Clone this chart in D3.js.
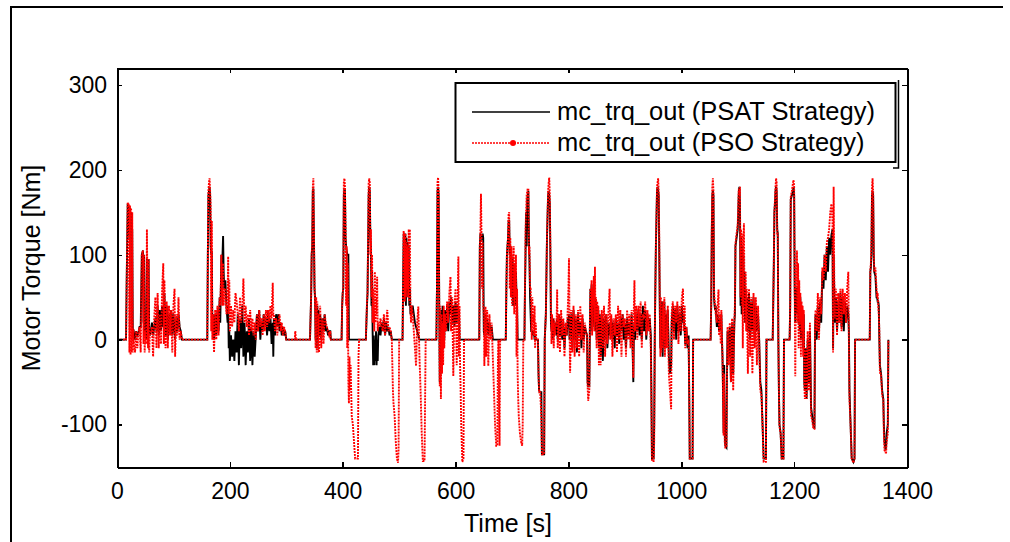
<html>
<head>
<meta charset="utf-8">
<script src="https://d3js.org/d3.v7.min.js"></script>
<style>
body { margin: 0; padding: 0; background: #fff; }
svg { display: block; background: #fff; }
text { font-family: Arial, "Liberation Sans", sans-serif; fill: #000; }
.axis path, .axis line { stroke: #000; shape-rendering: crispEdges; }
.axis path { stroke-width: 2; }
.axis line { stroke-width: 1.5; }
.axis text { font-size: 23px; }
</style>
</head>
<body>
<script>
// time [s] shared by both traces
var timeS = [
  0,16,17,18,19,20,21,22,23,24,25,26,27,28,29,30,
  32,34,36,38,40,42,44,46,47,48,49,50,52,53,55,56,
  57,58,60,62,64,66,68,70,72,74,76,78,80,82,83,84,
  86,88,90,92,94,96,98,100,102,103,105,107,109,111,113,115,160,
  161,162,163,164,165,166,167,168,169,170,172,174,176,178,180,182,
  183,184,185,186,187,188,189,190,192,194,196,197,198,199,200,202,
  204,206,208,210,212,214,216,218,220,222,224,226,228,230,232,234,
  236,238,240,242,244,246,248,250,252,254,256,258,260,262,264,266,
  268,270,272,274,276,277,278,280,282,284,286,288,290,292,294,296,
  298,300,315,316,317,342,
  344,345,346,347,348,349,350,351,352,353,354,355,356,357,358,360,
  362,364,366,368,370,372,374,376,378,379,398,
  399,400,401,402,403,404,405,406,407,408,409,410,411,412,413,414,
  416,418,420,422,427,428,429,441,
  443,444,446,447,448,449,450,451,452,453,454,455,456,457,458,459,
  460,461,462,463,465,467,469,471,473,475,477,479,481,483,485,487,
  488,489,490,492,494,496,498,499,500,506,
  507,508,509,510,511,512,513,514,515,516,517,518,519,520,521,522,
  524,526,528,530,532,534,536,538,540,542,545,547,566,
  567,568,569,570,571,572,573,574,575,576,577,578,579,580,581,583,
  585,587,589,591,592,594,596,598,600,602,604,605,606,607,
  608,609,610,612,614,615,642,
  643,644,645,646,647,648,649,650,651,653,654,656,658,660,662,664,
  666,668,670,672,674,675,676,677,678,679,689,
  690,691,693,694,695,696,697,698,699,700,701,702,703,704,705,706,
  707,708,709,710,711,712,714,716,718,719,720,722,
  723,724,725,726,727,728,729,730,731,732,733,734,735,736,737,738,
  739,740,741,742,743,746,747,748,750,752,753,757,758,
  760,762,764,765,766,767,768,769,770,771,772,773,774,775,776,777,
  779,780,781,783,785,787,789,791,793,795,797,799,800,801,802,803,
  805,807,809,811,813,815,817,819,821,823,825,827,829,831,833,
  834,835,837,838,839,840,841,842,843,844,845,846,847,848,849,850,
  851,852,853,854,855,857,859,861,863,865,867,869,871,873,874,
  876,878,880,882,884,886,888,890,892,894,896,898,900,902,904,906,908,910,
  912,914,915,916,917,918,920,922,924,926,928,930,932,934,936,938,
  940,942,944,946,947,948,951,952,953,954,955,957,958,959,960,961,962,
  963,964,965,966,967,968,969,970,971,972,974,976,978,980,982,983,
  985,987,989,991,993,995,997,999,1001,1003,1004,1006,1007,1009,1011,1013,
  1014,1015,1020,1021,1052,1053,1054,1055,1056,1057,1058,1059,1060,1061,
  1063,1064,1066,1067,1068,1070,1071,1072,1073,1074,1075,1076,1077,1078,1080,1081,
  1082,1084,1086,1088,1090,1092,1094,1095,1096,1098,1100,1101,1102,1103,1104,
  1105,1106,1107,1108,1109,1110,1111,1112,1113,1114,1115,1116,
  1118,1120,1122,1124,1126,1128,1130,1132,1134,1136,1138,
  1140,1142,1144,1146,1150,1151,1162,1164,1165,1166,1167,1168,1169,1170,1171,1172,
  1173,1174,1176,1178,1181,1182,1192,1193,1194,1196,1198,1199,1200,1201,
  1202,1203,1204,1205,1206,1207,1208,1209,1210,1211,1212,1213,1214,1215,1216,1217,
  1218,1219,1220,1222,1224,1226,1228,1230,1232,1234,1236,1237,
  1238,1240,1242,1244,1246,1248,1250,1252,1254,1256,1258,1260,1262,1264,1266,1268,1269,1270,1271,
  1272,1274,1276,1278,1280,1282,1284,1286,1288,1290,1292,1294,1296,1297,
  1298,1300,1302,1305,1307,1308,1334,1335,1336,1337,1338,1339,1340,1341,
  1342,1344,1346,1347,1348,1349,1350,1351,1352,1354,1356,1358,1359,1360,1362,1363,1364,1366,1367
];

// mc_trq_out, PSAT strategy [Nm]
var psatTorque = [
  0,0,60,110,160,150,155,120,155,130,150,20,130,5,12,8,
  0,10,5,8,15,15,100,105,20,100,5,10,0,95,30,95,
  10,5,10,20,5,15,25,10,40,5,35,10,40,15,20,55,
  5,40,0,30,10,35,5,30,10,0,25,10,30,15,10,0,0,
  100,170,175,180,170,110,100,105,10,30,0,30,5,35,10,50,
  20,60,100,60,100,122,80,60,70,40,20,40,-10,10,-25,5,
  -20,0,-25,10,-15,30,-30,25,-10,40,-20,20,-30,10,-15,25,
  -25,15,-30,10,-20,5,30,10,35,0,20,10,30,15,25,5,
  35,10,25,-5,20,-20,25,5,30,15,30,10,20,5,15,5,
  10,0,0,0,0,0,
  50,100,110,175,178,120,60,50,0,30,-10,40,0,35,5,30,
  0,25,10,30,10,15,5,10,10,0,0,
  40,55,60,170,178,175,120,110,105,100,100,100,0,0,0,0,
  0,0,0,0,0,0,0,0,
  40,55,170,180,175,120,110,40,80,10,-30,5,-30,0,-25,10,
  -30,0,-25,5,15,5,20,10,25,5,20,10,15,5,10,0,
  0,0,0,0,0,0,0,0,0,0,
  60,125,120,50,125,40,120,55,115,50,110,40,60,30,35,30,
  40,30,20,15,10,5,0,0,0,0,0,0,0,
  60,175,180,170,50,-50,30,-40,35,-30,40,-10,30,0,35,10,
  40,10,45,30,50,20,40,15,45,20,40,30,35,0,
  0,0,0,0,0,0,0,
  110,125,120,122,118,125,120,10,5,30,10,25,5,20,10,15,
  0,0,0,0,0,0,0,0,0,0,0,
  60,100,120,140,140,100,110,60,100,50,95,40,90,60,85,40,
  80,50,40,0,0,0,0,0,0,0,0,0,
  60,100,150,110,165,170,175,120,90,50,30,10,10,5,10,5,
  10,0,5,0,0,0,-40,-60,-62,-62,-135,-135,0,
  30,120,170,175,170,160,100,20,10,20,0,25,5,20,10,20,
  5,25,0,30,5,25,0,20,-10,15,5,25,20,30,0,10,
  30,-10,35,0,25,-15,30,5,20,-10,25,0,15,10,5,
  -50,-55,-55,10,60,20,65,10,55,20,60,15,50,10,45,0,
  40,5,35,-10,30,-20,30,-25,25,0,30,-10,20,5,10,
  25,0,20,-10,25,5,20,-5,25,10,30,0,20,-10,25,5,20,0,
  30,-20,-50,10,20,0,30,10,35,5,30,0,40,10,35,0,
  30,15,25,5,-60,-140,-140,-100,0,60,110,175,180,175,170,100,30,
  -10,40,0,45,-20,35,10,45,-10,30,10,35,-20,-40,-30,20,
  40,10,35,0,40,10,30,5,40,20,30,10,-5,15,-10,5,
  -60,-140,-140,0,0,40,120,170,175,170,50,40,35,40,
  15,30,20,10,25,10,30,0,-20,-60,-110,-30,-110,-125,-127,-40,
  10,-20,15,-50,18,-40,20,30,110,120,130,150,175,180,160,
  40,120,30,110,40,100,40,80,20,60,30,50,
  10,55,0,45,10,50,0,40,10,30,0,
  -50,-60,-100,-140,-140,0,0,90,150,160,175,180,175,130,125,0,
  -60,-100,-110,-140,-140,0,0,40,165,170,175,180,170,60,
  20,50,60,60,30,60,20,55,10,50,0,40,5,35,-10,30,
  -50,-60,-10,-70,0,-50,10,-80,-90,-100,-105,10,
  30,0,40,10,45,20,80,60,100,70,110,80,120,100,123,130,-10,100,60,
  20,50,10,45,20,55,15,50,10,45,20,40,30,10,
  -60,-100,-140,-144,-140,0,0,80,85,100,170,175,170,100,
  80,75,50,50,45,45,40,0,-30,-40,-60,-70,-100,-120,-130,-125,-110,-100,0
];

// mc_trq_out, PSO strategy [Nm]
var psoTorque = [
  0,0,60,115,162,158,160,-15,158,-18,155,-15,150,-15,12,-5,
  -15,10,-10,8,15,-15,100,105,-5,100,-15,10,-5,130,-10,95,
  -15,5,10,15,-20,25,50,-10,55,-10,30,-5,60,90,-5,70,
  -10,45,-10,40,5,35,-15,40,60,-20,30,5,50,0,10,0,0,
  100,175,185,190,175,160,10,140,0,30,-15,35,0,40,5,50,
  40,65,100,60,40,90,40,60,60,30,50,98,30,70,10,40,
  15,35,20,55,45,30,10,50,20,35,72,20,40,15,30,5,
  35,10,25,5,20,0,30,10,35,15,25,5,30,10,35,15,
  35,20,40,25,67,30,30,10,25,5,20,30,10,20,5,15,
  10,0,0,10,0,0,
  50,100,115,180,190,130,70,40,-10,50,-15,45,-15,30,-15,40,
  -10,25,-5,30,20,15,10,5,10,0,0,
  40,55,60,185,190,180,130,40,110,-10,90,-50,-75,-20,-60,-30,
  -90,-100,-120,-140,-140,-20,0,0,
  45,55,185,190,185,100,130,50,100,20,60,40,10,80,20,50,
  30,74,10,20,15,25,15,10,30,5,20,35,10,15,10,0,
  -30,-60,-75,-90,-120,-140,-145,-130,0,0,
  60,128,120,45,125,50,115,60,110,50,130,45,130,40,20,40,
  30,10,-10,-31,20,39,-20,-60,-110,-143,-143,0,0,
  60,185,191,175,40,-55,40,-70,30,-40,20,-30,40,-10,30,10,
  45,20,55,74,10,50,-43,40,60,-30,50,98,-20,40,
  -30,-60,-100,-144,-140,0,0,
  110,127,172,120,60,115,40,30,-31,39,-20,35,-31,30,0,20,
  -20,-60,-100,-125,-125,-30,0,-80,-125,0,0,
  60,100,120,148,150,60,120,50,110,40,100,50,110,30,90,50,
  100,-20,60,-40,-70,-90,-110,-120,-125,-100,0,0,
  60,130,150,170,175,178,178,100,110,60,60,40,0,50,20,30,
  5,40,-10,20,0,0,-40,-62,-62,-90,-135,-135,0,
  30,120,175,185,191,170,110,40,-5,30,10,20,-10,25,5,20,
  15,59,-10,30,-15,35,5,25,-20,20,5,40,60,96,10,-39,
  35,-15,40,-20,30,-10,35,-20,40,0,30,-15,20,10,5,
  -55,-72,-60,20,60,30,70,5,60,40,75,10,86,20,50,-10,
  45,20,40,-30,30,-30,35,-10,40,-20,30,-5,35,60,0,
  30,-20,25,5,30,-15,40,0,35,-20,30,15,25,-20,35,0,30,-10,
  35,-10,-45,40,70,10,40,0,40,15,45,-10,30,25,45,5,
  35,10,30,-10,-70,-143,-143,-120,0,60,110,180,185,190,175,120,40,
  -20,50,-15,40,-10,45,0,50,-20,35,-10,40,-40,-60,-82,30,
  45,0,40,20,45,-5,40,10,50,60,10,40,-10,15,-5,0,
  -60,-140,-140,0,0,40,130,180,190,175,60,45,40,30,
  20,35,59,5,30,-5,35,10,-20,-70,-113,-40,-120,-127,-127,-50,
  15,-30,20,-50,25,-60,20,40,113,125,135,160,178,170,180,
  50,130,40,125,-10,110,137,50,20,80,10,60,
  -40,60,-20,50,-40,55,-10,50,-30,40,0,
  -60,-65,-100,-144,-144,0,0,90,150,165,180,190,185,125,125,0,
  -60,-102,-110,-140,-140,0,0,40,168,175,185,188,180,60,
  -43,60,80,105,20,90,-10,70,20,55,-20,45,10,40,-20,35,
  -50,-70,-10,-70,10,-60,20,-90,-95,-105,-105,20,
  35,10,55,0,50,30,85,70,100,80,115,120,130,150,160,140,-15,180,80,
  25,60,5,55,20,60,10,60,30,55,20,60,80,0,
  -70,-100,-140,-145,-140,0,0,82,90,120,180,190,175,110,
  80,85,60,50,55,40,30,10,-39,-40,-66,-70,-110,-130,-133,-133,-120,-110,0
];

var xTicks = [0, 200, 400, 600, 800, 1000, 1200, 1400];
var yTicks = [-100, 0, 100, 200, 300];
var seriesNames = ["mc_trq_out (PSAT Strategy)", "mc_trq_out (PSO Strategy)"];

var W = 1010, H = 542;
var plotLeft = 117, plotRight = 907, plotTop = 68, plotBottom = 467;

var x = d3.scaleLinear().domain([0, 1400]).range([plotLeft, plotRight]);
var y = d3.scaleLinear().domain([-150, 320]).range([plotBottom, plotTop]);

var svg = d3.select("body").append("svg")
    .attr("width", W)
    .attr("height", H);

// figure frame (top and left edges)
svg.append("path")
    .attr("d", "M11,542 V7 H1003")
    .attr("fill", "none")
    .attr("stroke", "#000")
    .attr("stroke-width", 2);

var n = Math.min(timeS.length, psatTorque.length, psoTorque.length);
var psat = [], pso = [];
for (var i = 0; i < n; i++) {
    psat.push({ t: timeS[i], v: psatTorque[i] });
    pso.push({ t: timeS[i], v: psoTorque[i] });
}

svg.append("clipPath").attr("id", "plotclip")
    .append("rect")
    .attr("x", plotLeft).attr("y", plotTop)
    .attr("width", plotRight - plotLeft).attr("height", plotBottom - plotTop);

var line = d3.line()
    .x(function (d) { return x(d.t); })
    .y(function (d) { return y(d.v); });

var plot = svg.append("g").attr("clip-path", "url(#plotclip)");

plot.append("path")
    .attr("d", line(psat))
    .attr("fill", "none")
    .attr("stroke", "#000")
    .attr("stroke-width", 1.9);

plot.append("path")
    .attr("d", line(pso))
    .attr("fill", "none")
    .attr("stroke", "#ff0000")
    .attr("stroke-width", 1.9)
    .attr("stroke-dasharray", "2,1");

// axes, ticks pointing inward on all four sides
var fmt = function (d) { return String(d); };   // plain hyphen minus, no grouping

svg.append("g")
    .attr("class", "axis")
    .attr("transform", "translate(0," + plotBottom + ")")
    .call(d3.axisBottom(x).tickValues(xTicks).tickFormat(fmt)
        .tickSizeInner(-5).tickSizeOuter(0).tickPadding(16));

svg.append("g")
    .attr("class", "axis")
    .attr("transform", "translate(0," + plotTop + ")")
    .call(d3.axisTop(x).tickValues(xTicks).tickSizeInner(-5).tickSizeOuter(0).tickFormat(""));

svg.append("g")
    .attr("class", "axis")
    .attr("transform", "translate(" + plotLeft + ",0)")
    .call(d3.axisLeft(y).tickValues(yTicks).tickFormat(fmt)
        .tickSizeInner(-5).tickSizeOuter(0).tickPadding(10));

svg.append("g")
    .attr("class", "axis")
    .attr("transform", "translate(" + plotRight + ",0)")
    .call(d3.axisRight(y).tickValues(yTicks).tickSizeInner(-5).tickSizeOuter(0).tickFormat(""));

// axis titles
svg.append("text")
    .attr("x", 508)
    .attr("y", 532)
    .attr("text-anchor", "middle")
    .style("font-size", "25px")
    .text("Time [s]");

svg.append("text")
    .attr("transform", "translate(40,268) rotate(-90)")
    .attr("text-anchor", "middle")
    .style("font-size", "25px")
    .text("Motor Torque [Nm]");

// legend
var lg = svg.append("g");
lg.append("path")
    .attr("d", "M898.5,80 V168 H893")
    .attr("fill", "none")
    .attr("stroke", "#000")
    .attr("stroke-width", 1.5);
lg.append("rect")
    .attr("x", 455.5).attr("y", 83)
    .attr("width", 440).attr("height", 79)
    .attr("fill", "#fff")
    .attr("stroke", "#000")
    .attr("stroke-width", 2);

lg.append("line")
    .attr("x1", 472).attr("x2", 550)
    .attr("y1", 112).attr("y2", 112)
    .attr("stroke", "#000").attr("stroke-width", 1.6);
lg.append("line")
    .attr("x1", 472).attr("x2", 550)
    .attr("y1", 143).attr("y2", 143)
    .attr("stroke", "#ff0000").attr("stroke-width", 1.6)
    .attr("stroke-dasharray", "2,1");
lg.append("circle")
    .attr("cx", 513).attr("cy", 143).attr("r", 3)
    .attr("fill", "#ff0000");

lg.selectAll("text.leg")
    .data(seriesNames)
    .enter().append("text")
    .attr("class", "leg")
    .attr("x", 557)
    .attr("y", function (d, i) { return 120 + i * 31; })
    .style("font-size", "25.5px")
    .text(function (d) { return d; });
</script>
</body>
</html>
